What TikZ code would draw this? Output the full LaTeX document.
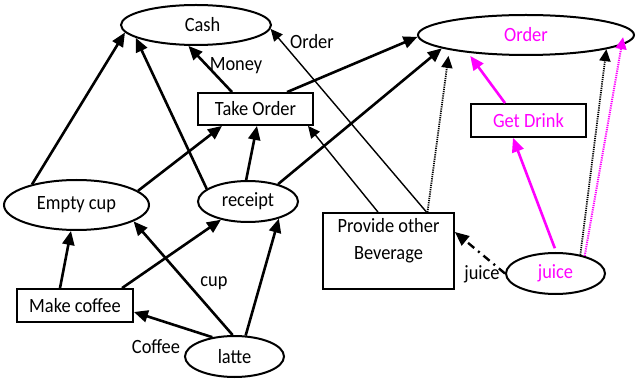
\documentclass[tikz,border=0pt]{standalone}
\usepackage{fontspec}
\setmainfont{Carlito}
\usetikzlibrary{arrows.meta,shapes.geometric}
\definecolor{mag}{RGB}{255,0,255}
% text set slightly taller than wide
\newcommand{\tall}[1]{\scalebox{1}[1.1]{#1}}
\begin{document}
\begin{tikzpicture}[x=1pt,y=-1pt,
  every node/.style={font=\fontsize{18.4}{27}\selectfont, inner sep=0pt},
  oval/.style={ellipse, draw, line width=2pt},
  box/.style={rectangle, draw, line width=1.8pt},
  bigtip/.style={-{Triangle[length=14pt,width=12pt]}},
  smalltip/.style={-{Triangle[length=12pt,width=11pt]}},
  heavy/.style={bigtip, line width=2.6pt},
  fine/.style={smalltip, line width=1.4pt},
  dotline/.style={smalltip, line width=1.8pt, dash pattern=on 1.2pt off 1pt},
  dashdotline/.style={bigtip, line width=2.4pt, dash pattern=on 8pt off 5pt on 2pt off 5pt}
]
\useasboundingbox[fill=white] (0,0) rectangle (637,379);

% states and activities
\node[oval, minimum width=150pt, minimum height=40pt] (cash) at (196,25) {\hspace*{13pt}\tall{Cash}};
\node[oval, minimum width=216pt, minimum height=40pt, text=mag] (order) at (526,35) {\tall{Order}};
\node[box, minimum width=115pt, minimum height=32pt] (take) at (255.5,109) {\tall{Take Order}};
\node[box, minimum width=115pt, minimum height=33pt, text=mag] (drink) at (528.5,120.5) {\tall{Get Drink}};
\node[oval, minimum width=145pt, minimum height=50pt] (empty) at (76.5,205) {\tall{Empty cup}};
\node[oval, minimum width=100pt, minimum height=41pt] (receipt) at (248,201.5) {\tall{receipt}};
\node[box, minimum width=131pt, minimum height=76pt,
      label={[yshift=10.5pt, align=center]center:\tall{Provide other}\\\tall{Beverage}}] (prov) at (388.5,251) {};
\node[oval, minimum width=99pt, minimum height=41pt, text=mag] (juice) at (555.5,273.5) {\tall{juice}};
\node[box, minimum width=116pt, minimum height=33pt] (make) at (75,305.5) {\tall{Make coffee}};
\node[oval, minimum width=99pt, minimum height=41pt] (latte) at (234.5,356.5) {\tall{latte}};

% flows into Cash
\draw[heavy] (empty.155) -- (cash.186);
\draw[heavy] (receipt.163) -- (cash.192);
\draw[heavy] ([xshift=-23.5pt]take.north) -- (cash.250);
\draw[fine] ([xshift=38pt]prov.north) -- (cash.357);

% flows into Take Order
\draw[heavy] (empty.13) -- ([xshift=-33.5pt]take.south);
\draw[heavy] (receipt.95) -- ([xshift=1.5pt]take.south);
\draw[fine] ([xshift=-10.5pt]prov.north) -- ([xshift=52.5pt]take.south);

% flows into Order
\draw[heavy] (receipt.30) -- (order.189);
\draw[heavy] ([xshift=31.5pt]take.north) -- (order.181);
\draw[dotline, shorten >=6pt] ([xshift=39pt]prov.north) -- (order.191);
\draw[heavy, mag, shorten >=4pt] ([xshift=-23.5pt]drink.north) -- (order.197);
\draw[dotline] (juice.37) -- (order.350);
\draw[dotline, mag, line width=2pt, shorten >=-8pt] (juice.31) -- (order.354);

% juice
\draw[heavy, mag, shorten <=4pt] (juice.88) -- ([xshift=-15.5pt]drink.south);
\draw[dashdotline] (juice.180) -- ([yshift=19pt]prov.east);

% coffee side
\draw[heavy] ([xshift=-15pt]make.north) -- (empty.258);
\draw[heavy] ([xshift=47pt]make.north) -- (receipt.214);
\draw[heavy] (latte.95) -- (empty.344);
\draw[heavy] (latte.139) -- ([yshift=-6.5pt]make.east);
\draw[heavy] (latte.62) -- (receipt.331);

% flow labels
\node (money) at (236,66) {\tall{Money}};
\node (ordlbl) at (312,42) {\tall{Order}};
\node (cuplbl) at (214,283) {\tall{cup}};
\node (coflbl) at (156,347) {\tall{Coffee}};
\node (juicelbl) at (482,274) {\tall{juice}};
\end{tikzpicture}
\end{document}
